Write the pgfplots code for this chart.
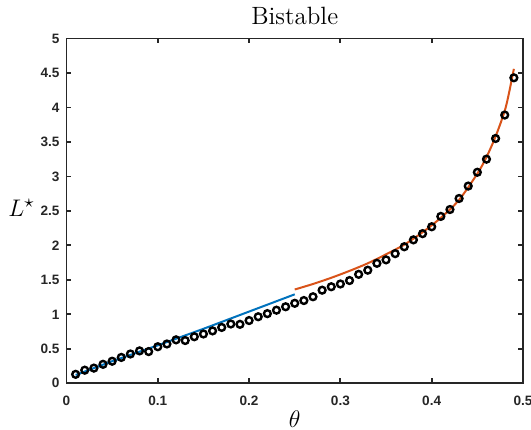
\documentclass[border=0pt]{standalone}
\usepackage{fontspec}
\usepackage{pgfplots}
\pgfplotsset{compat=1.18}
\newfontfamily\ticksans{Liberation Sans}
\definecolor{mblue}{rgb}{0,0.447,0.741}
\definecolor{morange}{rgb}{0.85,0.325,0.098}
\definecolor{axgray}{rgb}{0.15,0.15,0.15}

\begin{document}
\begin{tikzpicture}
\begin{axis}[
    name=ax,
    scale only axis,
    width=228.25pt, height=172.4pt,
    xmin=0, xmax=0.5, ymin=0, ymax=5,
    xtick={0,0.1,0.2,0.3,0.4,0.5},
    ytick={0,0.5,1,1.5,2,2.5,3,3.5,4,4.5,5},
    scaled ticks=false,
    tick align=inside,
    major tick length=2.5pt,
    axis line style={axgray, line width=0.9pt},
    every tick/.style={axgray, line width=0.9pt},
    tick label style={font=\ticksans\bfseries\fontsize{6.8}{8}\selectfont, text=axgray},
    /pgf/number format/assume math mode=true,
    xticklabel style={yshift=-3pt},
    title={Bistable},
    every axis title/.style={font=\fontsize{12.5}{14}\selectfont, at={(axis description cs:0.5,1)}, anchor=base, yshift=7pt},
    xlabel={$\theta$},
    every axis x label/.style={font=\fontsize{12}{14}\selectfont, at={(axis description cs:0.5,0)}, anchor=base, yshift=-22.35pt},
    ylabel={$L^\star$},
    every axis y label/.style={font=\fontsize{13}{15}\selectfont, inner sep=0pt, at={(axis description cs:0,0.485)}, anchor=base east, xshift=-15.75pt},
]
% simulated equilibria
\addplot[only marks, mark=o, mark size=1.7pt, mark options={black, line width=1.2pt}]
  coordinates {
  (0.01,0.13)(0.02,0.19)(0.03,0.22)(0.04,0.275)(0.05,0.32)
  (0.06,0.375)(0.07,0.425)(0.08,0.47)(0.09,0.46)(0.10,0.53)
  (0.11,0.57)(0.12,0.63)(0.13,0.62)(0.14,0.675)(0.15,0.715)
  (0.16,0.76)(0.17,0.81)(0.18,0.86)(0.19,0.855)(0.20,0.91)
  (0.21,0.965)(0.22,1.01)(0.23,1.06)(0.24,1.11)(0.25,1.16)
  (0.26,1.20)(0.27,1.255)(0.28,1.35)(0.29,1.40)(0.30,1.44)
  (0.31,1.49)(0.32,1.58)(0.33,1.64)(0.34,1.74)(0.35,1.79)
  (0.36,1.88)(0.37,1.98)(0.38,2.08)(0.39,2.17)(0.40,2.27)
  (0.41,2.42)(0.42,2.52)(0.43,2.68)(0.44,2.86)(0.45,3.06)
  (0.46,3.25)(0.47,3.55)(0.48,3.89)(0.49,4.43)};
% low branch approximation
\addplot[mblue, line width=1pt]
  coordinates {(0.01,0.12)(0.05,0.32)(0.10,0.55)(0.15,0.79)(0.20,1.04)(0.25,1.29)};
% high branch approximation
\addplot[morange, line width=1pt, smooth]
  coordinates {
  (0.25,1.36)(0.27,1.44)(0.29,1.53)(0.31,1.63)(0.33,1.74)
  (0.35,1.87)(0.37,2.01)(0.39,2.19)(0.41,2.40)(0.43,2.66)
  (0.45,3.04)(0.46,3.28)(0.47,3.58)(0.48,3.95)(0.485,4.23)(0.49,4.56)};
\end{axis}
\pgfresetboundingbox
\path ([xshift=-33.25pt,yshift=-23.35pt]ax.south west) rectangle ([xshift=4pt,yshift=19.25pt]ax.north east);
\end{tikzpicture}
\end{document}
